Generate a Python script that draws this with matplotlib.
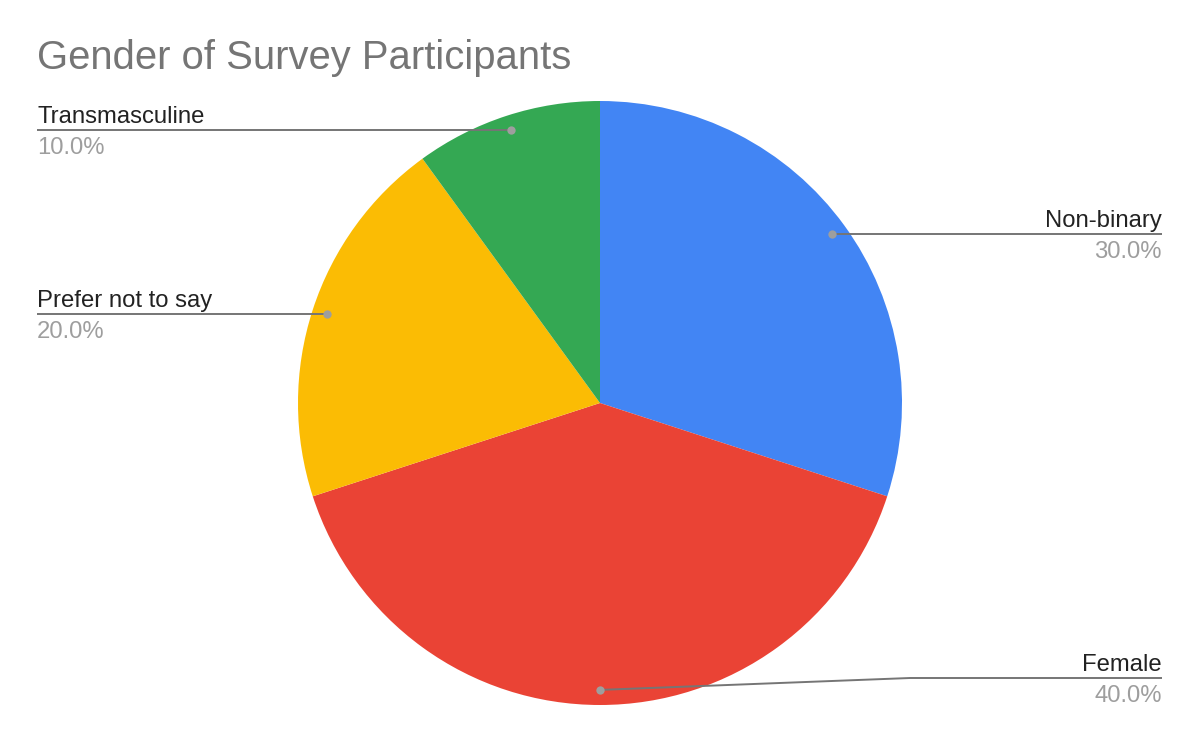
import numpy as np
import matplotlib.pyplot as plt

# data
labels = ['Non-binary', 'Female', 'Prefer not to say', 'Transmasculine']
values = [30, 40, 20, 10]
colors = ['#4285f4', '#ea4335', '#fbbc04', '#34a853']

W, H = 1200, 742
plt.rcParams['font.family'] = ['Liberation Sans', 'DejaVu Sans']

fig = plt.figure(figsize=(W / 100, H / 100), dpi=100)
ax = fig.add_axes([0, 0, 1, 1])

cx, cy, R = 600, H - 403, 302
wedges, _ = ax.pie(values, colors=colors, startangle=90, counterclock=False,
                   center=(cx, cy), radius=R, frame=True,
                   wedgeprops=dict(linewidth=0))
ax.set_xlim(0, W)
ax.set_ylim(0, H)
ax.set_aspect('equal')
ax.axis('off')

# label layout: (side, line y in px, kink x or None)
layout = {
    'Non-binary': ('right', None, None),
    'Female': ('right', 678, 910),
    'Prefer not to say': ('left', None, None),
    'Transmasculine': ('left', None, None),
}

total = sum(values)
for w, lab, v in zip(wedges, labels, values):
    ang = np.deg2rad((w.theta1 + w.theta2) / 2)
    dx = cx + 0.95 * R * np.cos(ang)
    dy = cy + 0.95 * R * np.sin(ang)
    side, ly, kx = layout[lab]
    ly = dy if ly is None else H - ly
    xe = 1162 if side == 'right' else 37
    if kx is None:
        xs, ys = [dx, xe], [dy, ly]
    else:
        xs, ys = [dx, kx, xe], [dy, ly, ly]
    ax.plot(xs, ys, color='#757575', lw=1.4, solid_capstyle='butt', zorder=3)
    ax.plot(dx, dy, 'o', color='#9e9e9e', ms=6, mec='none', zorder=4)
    ha = 'right' if side == 'right' else 'left'
    ax.text(xe, ly + 7, lab, ha=ha, va='baseline', fontsize=17.2, color='#222222')
    ax.text(xe, ly - 7, f'{v / total * 100:.1f}%', ha=ha, va='top',
            fontsize=17.2, color='#9e9e9e')

fig.text(37 / W, 1 - 69 / H, 'Gender of Survey Participants', ha='left',
         va='baseline', fontsize=28.8, color='#757575')

fig.savefig('out.png', dpi=100, facecolor='white')
